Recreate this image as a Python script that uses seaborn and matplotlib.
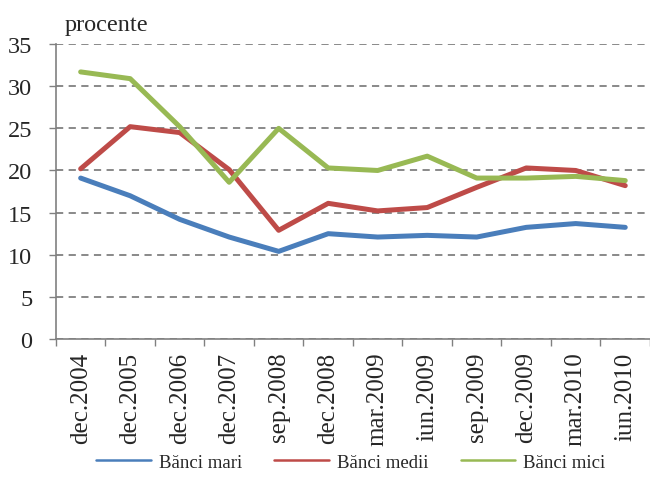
import numpy as np
import pandas as pd
import seaborn as sns
import matplotlib.pyplot as plt
from matplotlib.ticker import FixedLocator, NullFormatter

# chart data
periods = ['dec.2004', 'dec.2005', 'dec.2006', 'dec.2007', 'sep.2008', 'dec.2008',
           'mar.2009', 'iun.2009', 'sep.2009', 'dec.2009', 'mar.2010', 'iun.2010']
banci_mari = [19.1, 17.0, 14.2, 12.1, 10.4, 12.5, 12.1, 12.3, 12.1, 13.25, 13.7, 13.25]
banci_medii = [20.2, 25.2, 24.5, 20.1, 12.9, 16.1, 15.2, 15.6, 18.0, 20.3, 20.0, 18.2]
banci_mici = [31.7, 30.9, 25.2, 18.6, 25.0, 20.3, 20.0, 21.7, 19.1, 19.1, 19.3, 18.8]
series_names = ['Bănci mari', 'Bănci medii', 'Bănci mici']
colors = ['#4a7ebb', '#be4b48', '#98b954']

df = pd.DataFrame({
    'perioada': periods * 3,
    'valoare': banci_mari + banci_medii + banci_mici,
    'grup': [n for n in series_names for _ in periods],
})

sns.set_theme(style='white')
plt.rcParams['font.family'] = ['Liberation Serif', 'DejaVu Serif']

fig = plt.figure(figsize=(6.5, 4.85), dpi=100)
ax = fig.add_axes([0.086, 0.299, 0.914, 0.608])

sns.lineplot(data=df, x='perioada', y='valoare', hue='grup', palette=colors,
             linewidth=3.6, sort=False, ax=ax)

ax.set_xlim(-0.5, 11.5)
ax.set_ylim(0, 35)
ax.set_yticks(range(0, 36, 5))
ax.tick_params(axis='y', labelsize=17.5, length=5, width=1, color='#808080',
               direction='out', left=True, pad=12)

# category boundaries as major ticks, labels at centers as minor ticks
ax.xaxis.set_major_locator(FixedLocator(np.arange(-0.5, 12, 1)))
ax.xaxis.set_major_formatter(NullFormatter())
ax.xaxis.set_minor_locator(FixedLocator(np.arange(12)))
ax.set_xticklabels(periods, minor=True, rotation=90, fontsize=18)
ax.tick_params(axis='x', which='major', length=5, width=1, color='#808080',
               direction='out', bottom=True)
ax.tick_params(axis='x', which='minor', length=0, pad=9)

ax.yaxis.grid(True, linestyle=(0, (4, 3)), color='#808080', linewidth=1.3)
ax.set_axisbelow(True)
for side in ['top', 'right']:
    ax.spines[side].set_visible(False)
for side in ['left', 'bottom']:
    ax.spines[side].set_color('#808080')
    ax.spines[side].set_linewidth(1.2)

ax.set_xlabel('')
ax.set_ylabel('')
ax.text(0.015, 1.03, 'procente', transform=ax.transAxes, fontsize=17.5,
        ha='left', va='bottom')

handles, labels = ax.get_legend_handles_labels()
for h in handles:
    h.set_linewidth(1.8)
leg = ax.legend(handles, labels, loc='center', ncol=3, frameon=False, fontsize=13.5,
                handlelength=2.9, handletextpad=0.45, columnspacing=1.7,
                bbox_to_anchor=(0.54, 0.045), bbox_transform=fig.transFigure)

fig.savefig('out.png', dpi=100)
